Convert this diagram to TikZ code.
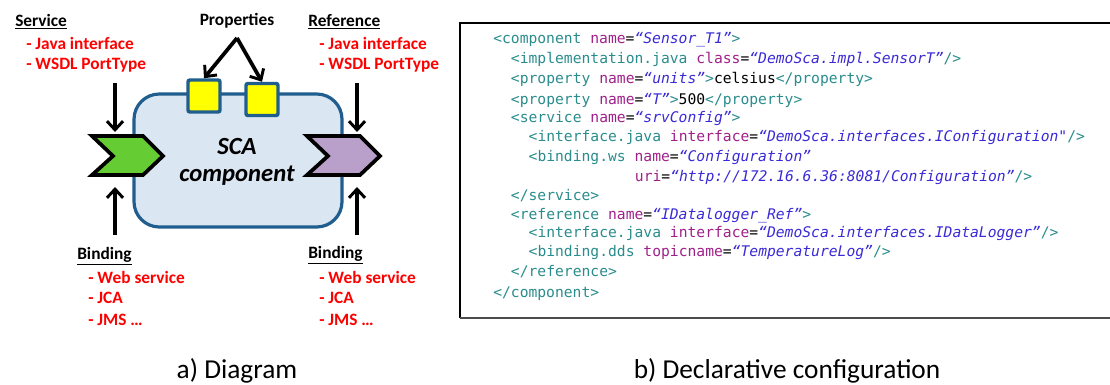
\documentclass[tikz,border=0pt]{standalone}
\usepackage{fontspec}
\setmainfont{Carlito}
\newfontfamily\codefont{DejaVu Sans Mono}
\usetikzlibrary{arrows.meta}
\definecolor{tagc}{HTML}{2A8C8C}
\definecolor{attc}{HTML}{A0208A}
\definecolor{valc}{HTML}{3A2AD6}
\definecolor{boxfill}{HTML}{DAE6F1}
\definecolor{boxedge}{HTML}{1F5E8E}
\definecolor{gfill}{HTML}{66CC33}
\definecolor{pfill}{HTML}{B8A0CA}
\definecolor{redt}{HTML}{FF0000}
\definecolor{propy}{HTML}{FFFF00}
\newcommand\codeT[1]{\textcolor{tagc}{#1}}
\newcommand\codeA[1]{\textcolor{attc}{#1}}
\newcommand\codeV[1]{\textcolor{valc}{\itshape #1}}
\tikzset{
  hdr/.style={anchor=west, inner sep=0pt, font=\fontsize{13}{15}\selectfont\bfseries},
  item/.style={anchor=west, inner sep=0pt, text=redt, font=\fontsize{13}{15}\selectfont\bfseries},
  codeline/.style={anchor=base west, inner sep=0pt, font=\codefont\fontsize{11}{13}\selectfont},
  caption/.style={inner sep=0pt, font=\fontsize{20.5}{24}\selectfont},
  bigarrow/.style={line width=2.8pt, -{Straight Barb[length=6.5pt,width=12pt,line width=2.2pt]}},
  chevron/.style={line width=2.8pt, line join=miter, draw=black},
  propbox/.style={draw=boxedge, fill=propy, line width=2.6pt, rounded corners=1.5pt},
}
\begin{document}
\begin{tikzpicture}[x=0.75pt, y=-0.75pt]
\useasboundingbox (0,0) rectangle (1110,385);
\clip (0,0) rectangle (1110,385);

% ---------- a) Diagram ----------
\draw[draw=boxedge, fill=boxfill, line width=2.4pt, rounded corners=19pt] (134,94) rectangle (342,227);
\node[propbox, minimum width=24pt, minimum height=24pt, inner sep=0pt] (p1) at (204,96) {};
\node[propbox, minimum width=24pt, minimum height=24pt, inner sep=0pt] (p2) at (262,99.5) {};

\node[inner sep=0pt, font=\fontsize{18.5}{22}\selectfont\bfseries\itshape] (sca) at (237,146) {SCA};
\node[inner sep=0pt, font=\fontsize{18.5}{22}\selectfont\bfseries\itshape] (comp) at (237,176) {component};

\draw[chevron, fill=gfill] (92,136) -- (143,136) -- (163,156) -- (143,175) -- (92,175) -- (113,156) -- cycle;
\draw[chevron, fill=pfill] (307,136) -- (360,136) -- (380,156) -- (360,175) -- (307,175) -- (328,156) -- cycle;
\coordinate (svcIn) at (115,132);
\coordinate (svcBind) at (115,187);
\coordinate (refIn) at (357,132);
\coordinate (refBind) at (357,187);

\node[hdr] (svc) at (15,22) {\underline{Service}};
\node[item] (svc1) at (26,43) {- Java interface};
\node[item] (svc2) at (26,65) {- WSDL PortType};
\node[hdr, anchor=center] (props) at (237,21) {Properties};
\node[hdr] (ref) at (308,22) {\underline{Reference}};
\node[item] (ref1) at (319,43) {- Java interface};
\node[item] (ref2) at (319,65) {- WSDL PortType};

\node[hdr] (bind1) at (77,256) {\underline{Binding}};
\node[item] (b11) at (88,277) {- Web service};
\node[item] (b12) at (88,298) {- JCA};
\node[item] (b13) at (88,320) {- JMS …};
\node[hdr] (bind2) at (308,255) {\underline{Binding}};
\node[item] (b21) at (319,277) {- Web service};
\node[item] (b22) at (319,298) {- JCA};
\node[item] (b23) at (319,320) {- JMS …};

\coordinate (apex) at (237,38);
\coordinate (svcTop) at (115,83);
\coordinate (svcBot) at (115,235);
\coordinate (refTop) at (357,83);
\coordinate (refBot) at (357,235);
\draw[bigarrow] (apex) -- (p1.north);
\draw[bigarrow] (apex) -- (p2.north);
\draw[bigarrow] (svcTop) -- (svcIn);
\draw[bigarrow] (svcBot) -- (svcBind);
\draw[bigarrow] (refTop) -- (refIn);
\draw[bigarrow] (refBot) -- (refBind);

% ---------- b) Declarative configuration ----------
\draw[line width=1.3pt, black] (1115,23) -- (460,23) -- (460,318);
\draw[line width=2pt, black!70] (459.5,318) -- (1115,318);

\node[codeline] (l1) at (493,44) {\codeT{<component} \codeA{name}=\codeV{“Sensor\_T1”}\codeT{>}};
\node[codeline] (l2) at (510.7,64) {\codeT{<implementation.java} \codeA{class}=\codeV{“DemoSca.impl.SensorT”}\codeT{/>}};
\node[codeline] (l3) at (510.7,84) {\codeT{<property} \codeA{name}=\codeV{“units”}\codeT{>}celsius\codeT{</property>}};
\node[codeline] (l4) at (510.7,104) {\codeT{<property} \codeA{name}=\codeV{“T”}\codeT{>}500\codeT{</property>}};
\node[codeline] (l5) at (510.7,122.5) {\codeT{<service} \codeA{name}=\codeV{“srvConfig”}\codeT{>}};
\node[codeline] (l6) at (528.4,141.5) {\codeT{<interface.java} \codeA{interface}=\codeV{“DemoSca.interfaces.IConfiguration"}\codeT{/>}};
\node[codeline] (l7) at (528.4,161) {\codeT{<binding.ws} \codeA{name}=\codeV{“Configuration”}};
\node[codeline] (l8) at (634.7,181) {\codeA{uri}=\codeV{“http://172.16.6.36:8081/Configuration”}\codeT{/>}};
\node[codeline] (l9) at (510.7,200) {\codeT{</service>}};
\node[codeline] (l10) at (510.7,219) {\codeT{<reference} \codeA{name}=\codeV{“IDatalogger\_Ref”}\codeT{>}};
\node[codeline] (l11) at (528.4,237.5) {\codeT{<interface.java} \codeA{interface}=\codeV{“DemoSca.interfaces.IDataLogger”}\codeT{/>}};
\node[codeline] (l12) at (528.4,256.5) {\codeT{<binding.dds} \codeA{topicname}=\codeV{“TemperatureLog”}\codeT{/>}};
\node[codeline] (l13) at (510.7,276) {\codeT{</reference>}};
\node[codeline] (l14) at (493,297) {\codeT{</component>}};

% ---------- captions ----------
\node[caption] (capa) at (237,371) {a) Diagram};
\node[caption] (capb) at (787,371) {b) Declarative configuration};
\end{tikzpicture}
\end{document}
